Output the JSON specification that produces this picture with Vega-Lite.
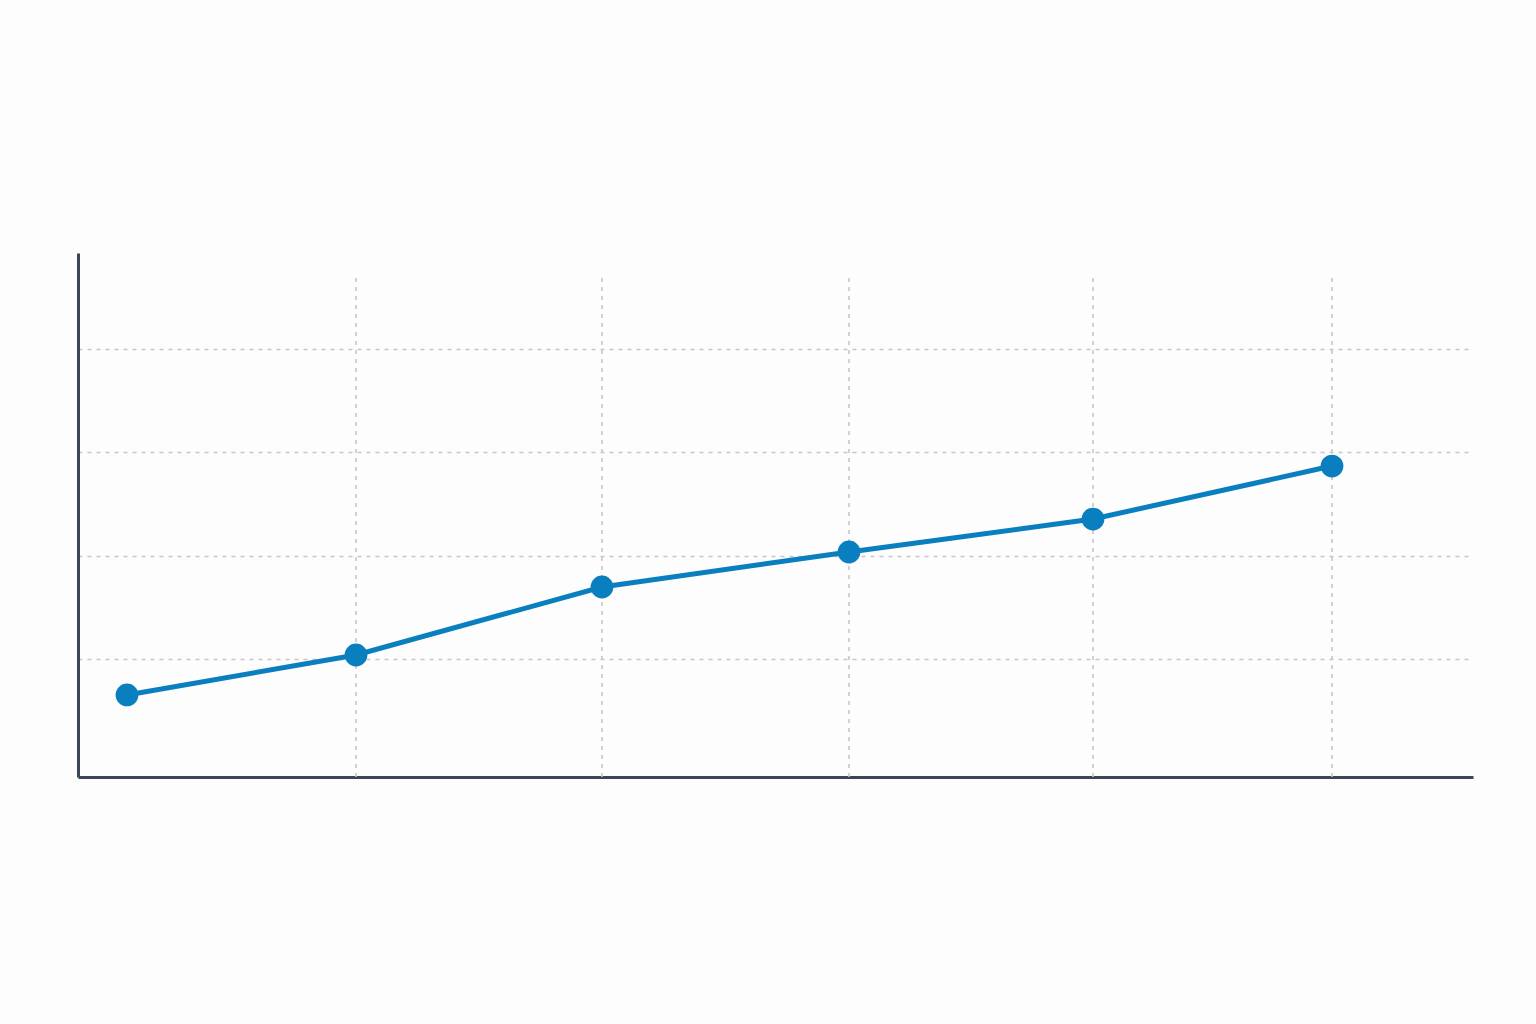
{
  "$schema": "https://vega.github.io/schema/vega-lite/v6.json",
  "width": 1395,
  "height": 524,
  "autosize": {"type": "none"},
  "padding": {"left": 78, "top": 253, "right": 63, "bottom": 247},
  "background": "#fdfdfd",
  "config": {"view": {"stroke": null}},
  "datasets": {
    "series": [
      {"x": 49, "v": 0.652},
      {"x": 278, "v": 1.039},
      {"x": 524, "v": 1.697},
      {"x": 771, "v": 2.036},
      {"x": 1015, "v": 2.355},
      {"x": 1254, "v": 2.868}
    ],
    "vgrid": [
      {"x": 278, "lo": -0.142, "hi": 4.717},
      {"x": 524, "lo": -0.142, "hi": 4.717},
      {"x": 771, "lo": -0.142, "hi": 4.717},
      {"x": 1015, "lo": -0.142, "hi": 4.717},
      {"x": 1254, "lo": -0.142, "hi": 4.717}
    ]
  },
  "encoding": {
    "x": {
      "field": "x",
      "type": "quantitative",
      "scale": {"domain": [0, 1395], "nice": false, "zero": false},
      "axis": {"title": null, "labels": false, "ticks": false, "grid": false, "domain": true, "domainColor": "#3b4757", "domainWidth": 3}
    }
  },
  "layer": [
    {
      "data": {"name": "vgrid"},
      "mark": {"type": "rule", "color": "#c6c6c6", "strokeWidth": 1.6, "strokeDash": [4, 5]},
      "encoding": {
        "y": {
          "field": "lo",
          "type": "quantitative",
          "scale": {"domain": [-0.142, 4.93], "nice": false, "zero": false},
          "axis": {"title": null, "labels": false, "ticks": false, "grid": true, "values": [1, 2, 3, 4], "gridColor": "#c6c6c6", "gridWidth": 1.6, "gridDash": [4, 5], "domain": true, "domainColor": "#3b4757", "domainWidth": 3}
        },
        "y2": {"field": "hi"}
      }
    },
    {
      "data": {"name": "series"},
      "mark": {"type": "line", "color": "#0a7fbf", "strokeWidth": 5},
      "encoding": {
        "y": {"field": "v", "type": "quantitative"}
      }
    },
    {
      "data": {"name": "series"},
      "mark": {"type": "point", "filled": true, "shape": "circle", "color": "#0a7fbf", "opacity": 1, "size": 520},
      "encoding": {
        "y": {"field": "v", "type": "quantitative"}
      }
    }
  ]
}
